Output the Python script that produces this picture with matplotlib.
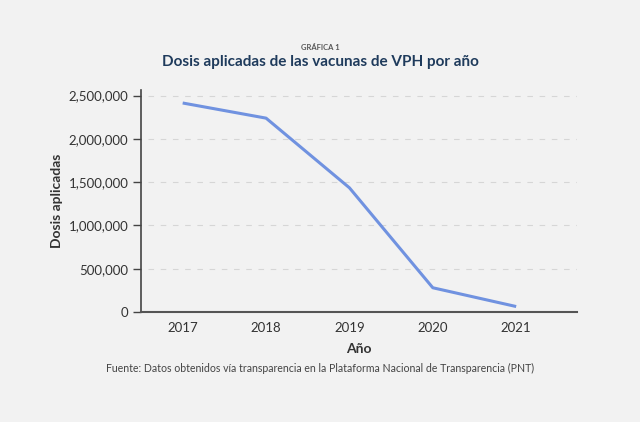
import numpy as np
import matplotlib.pyplot as plt
from matplotlib.ticker import FuncFormatter

years = [2017, 2018, 2019, 2020, 2021]
dosis = [2415000, 2240000, 1435000, 280000, 63000]
yticks = [0, 500000, 1000000, 1500000, 2000000, 2500000]

bg = '#f2f2f2'
plt.rcParams['font.family'] = ['Lato', 'DejaVu Sans']

fig = plt.figure(figsize=(6.4, 4.22), dpi=100, facecolor=bg)
ax = fig.add_axes([0.2203, 0.2607, 0.6813, 0.526])
ax.set_facecolor(bg)

ax.plot(years, dosis, color='#7092e0', lw=2.2, solid_capstyle='butt')

ax.set_xlim(2016.5, 2021.73)
ax.set_ylim(0, 2565000)
ax.set_xticks(years)
ax.set_yticks(yticks)
ax.yaxis.set_major_formatter(FuncFormatter(lambda v, p: f'{int(v):,}'))
ax.tick_params(axis='x', length=0, pad=7, labelsize=9.5, colors='#333333')
ax.tick_params(axis='y', length=6, width=1, pad=3, labelsize=9.5, colors='#333333')
ax.tick_params(axis='y', color='#444444')

for g in yticks[1:]:
    ax.axhline(g, xmin=0.015, xmax=1, color='#d6d6d6', lw=0.8, ls=(0, (5, 6)), zorder=0)

for s in ['top', 'right']:
    ax.spines[s].set_visible(False)
ax.spines['left'].set_color('#444444')
ax.spines['bottom'].set_color('#555555')
ax.spines['left'].set_linewidth(1.2)
ax.spines['bottom'].set_linewidth(1.5)

ax.set_xlabel('Año', fontsize=10, fontweight='bold', color='#333333', labelpad=7)
ax.set_ylabel('Dosis aplicadas', fontsize=10, fontweight='bold', color='#333333', labelpad=4)

fig.text(0.5, 0.888, 'GRÁFICA 1', ha='center', va='center', fontsize=5.5,
         fontweight='bold', color='#555555')
fig.text(0.5, 0.852, 'Dosis aplicadas de las vacunas de VPH por año', ha='center',
         va='center', fontsize=11, fontweight='bold', color='#1f3b5c')
fig.text(0.5, 0.128, 'Fuente: Datos obtenidos vía transparencia en la Plataforma Nacional de Transparencia (PNT)',
         ha='center', va='center', fontsize=7.6, color='#444444')

fig.savefig('out.png', dpi=100, facecolor=bg)
